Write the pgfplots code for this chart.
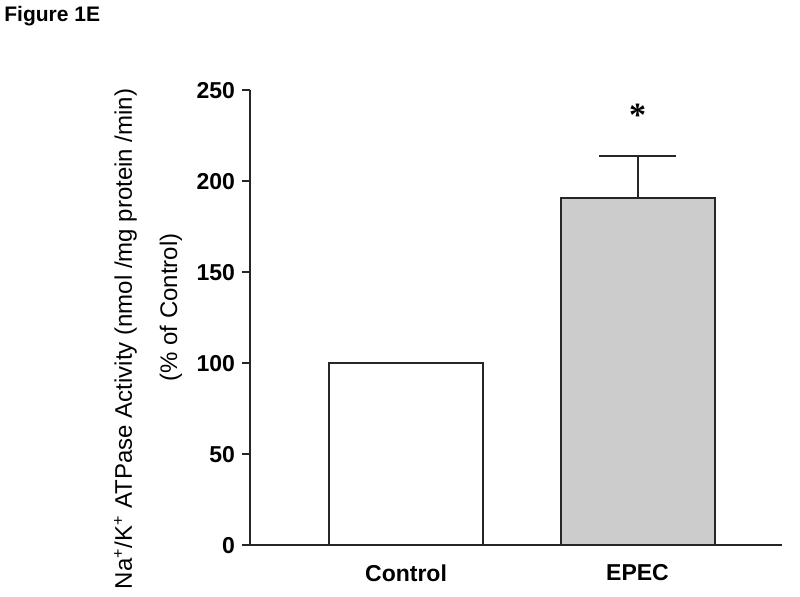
\documentclass[border=0pt]{standalone}
\usepackage{fontspec}
\setmainfont{Liberation Sans}
\newfontfamily\serifast{Liberation Serif}
\usepackage{pgfplots}
\pgfplotsset{compat=1.18}
\begin{document}
\begin{tikzpicture}
\path[use as bounding box] (0,0) rectangle (400pt,298.5pt);
\node[anchor=base west, inner sep=0pt, font=\fontsize{10.5}{12}\selectfont\bfseries] at (2pt,287.5pt) {Figure 1E};
\begin{axis}[
  at={(125pt,25.75pt)}, anchor=south west,
  scale only axis, width=266pt, height=227.5pt,
  xmin=-0.674, xmax=1.624, ymin=0, ymax=250,
  axis x line=bottom, axis y line=left,
  axis line style={-, line width=1pt, color=black!85},
  xtick={0,1}, xticklabels={Control,EPEC},
  x tick style={draw=none},
  ytick={0,50,...,250},
  y tick style={line width=1pt, black!85},
  tick align=outside, major tick length=4pt,
  ticklabel style={font=\fontsize{11.5}{13}\selectfont\bfseries},
  /pgf/number format/assume math mode=true,
  xticklabel style={inner sep=0pt, anchor=north, yshift=-5.5pt},
  ybar, bar width=0.665,
  clip=false,
]
\addplot[fill=white, draw=black!85, line width=1pt, bar shift=0pt] coordinates {(0,100)};
\addplot[fill=black!20, draw=black!85, line width=1pt, bar shift=0pt,
  error bars/.cd, y dir=plus, y explicit,
  error bar style={line width=1pt, black!85},
  error mark options={rotate=90, line width=1pt, black!85, mark size=19.25pt}]
  coordinates {(1,191) +- (0,23)};
\node[anchor=north, inner sep=0pt, font=\fontsize{17}{17}\selectfont\serifast\bfseries] at (axis cs:1,243) {*};
\draw[line width=1pt, black!85] (axis cs:-0.674,0) -- ++(-4pt,0);
\end{axis}
\node[rotate=90, anchor=base, inner sep=0pt, font=\fontsize{12}{14}\selectfont] at (66pt,129pt) {Na\textsuperscript{+}/K\textsuperscript{+} ATPase Activity (nmol /mg protein /min)};
\node[rotate=90, anchor=base, inner sep=0pt, font=\fontsize{12}{14}\selectfont] at (88.5pt,144.75pt) {(\% of Control)};
\end{tikzpicture}
\end{document}
